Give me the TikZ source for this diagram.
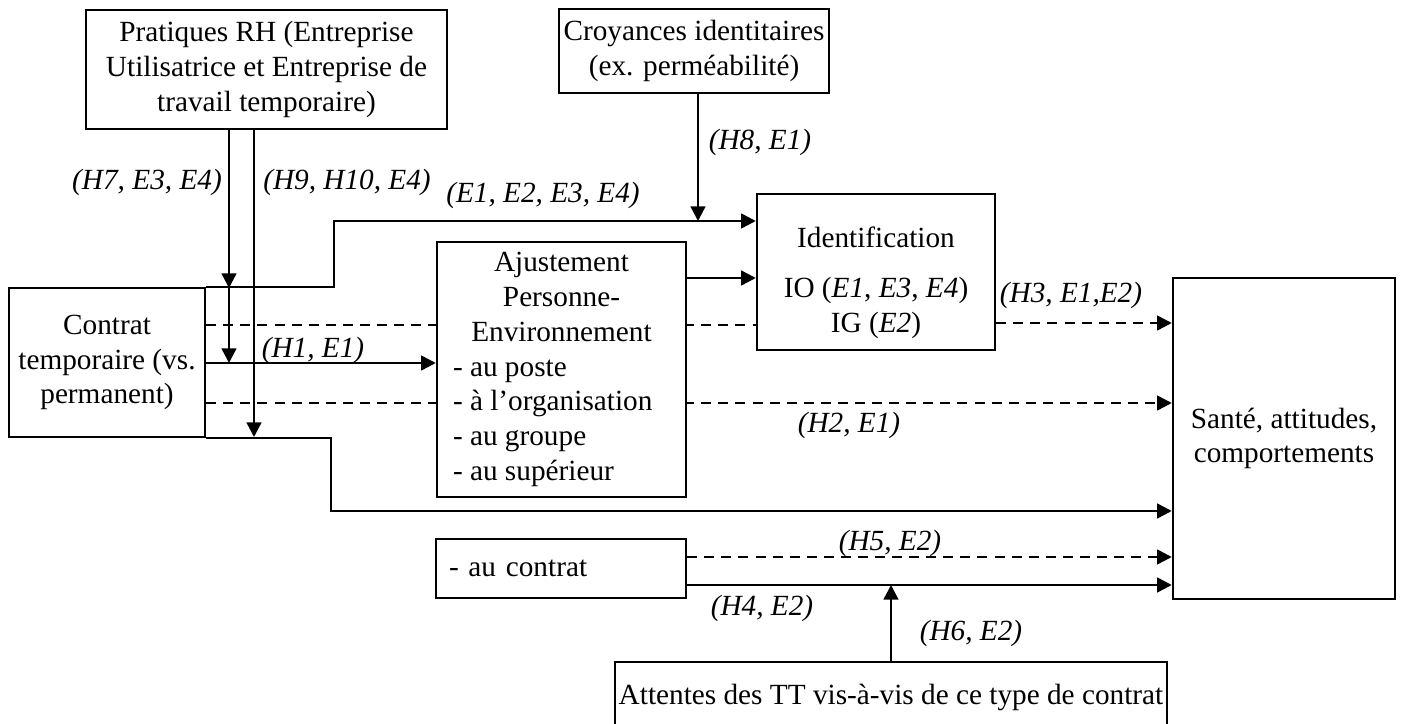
\documentclass[tikz,border=0pt]{standalone}
\usepackage{fontspec}
\setmainfont{Liberation Serif}
\usetikzlibrary{arrows.meta,backgrounds}
\begin{document}
\begin{tikzpicture}[x=0.41pt,y=-0.41pt,
  font=\fontsize{12}{14.3}\selectfont,
  box/.style={draw,line width=1pt,inner sep=0pt,fill=white,align=center,anchor=center},
  txt/.style={inner sep=0pt,align=center},
  lab/.style={inner sep=0pt,font=\fontsize{12}{14.3}\selectfont\itshape},
  conn/.style={line width=1pt},
  arr/.style={conn,-{Triangle[length=6pt,width=6pt]}},
  dsh/.style={conn,dash pattern=on 4.1pt off 2.9pt},
  darr/.style={dsh,-{Triangle[length=6pt,width=6pt]}},
]
\useasboundingbox (0,0) rectangle (1403,724);

% boxes
\node[box,minimum width=361*0.41pt,minimum height=119*0.41pt] (prat) at (266.5,69.5)
  {Pratiques RH (Entreprise\\Utilisatrice et Entreprise de\\travail temporaire)};
\node[box,minimum width=270*0.41pt,minimum height=84*0.41pt] (croy) at (694,51)
  {Croyances identitaires\\(ex. perméabilité)};
\node[box,minimum width=196*0.41pt,minimum height=149*0.41pt] (contrat) at (107,362.5)
  {Contrat\\temporaire (vs.\\permanent)};
\node[box,minimum width=249*0.41pt,minimum height=255*0.41pt,text width=217*0.41pt,align=none] (ajust) at (561.5,369.5)
  {\centering Ajustement\par Personne-\par Environnement\par\raggedright - au poste\par - à l’organisation\par - au groupe\par - au supérieur\par};
\node[box,minimum width=238*0.41pt,minimum height=156*0.41pt] (ident) at (876,272) {};
\node[txt] (identtxt) at (876,283) {Identification\\[6pt]IO (\textit{E1}, \textit{E3}, \textit{E4})\\IG (\textit{E2})};
\node[box,minimum width=222*0.41pt,minimum height=321*0.41pt] (sante) at (1284,438.5)
  {Santé, attitudes,\\comportements};
\node[box,minimum width=250*0.41pt,minimum height=59*0.41pt,text width=224*0.41pt,align=left] (auc) at (561,568.5)
  {- au contrat};
\node[box,minimum width=552*0.41pt,minimum height=70*0.41pt] (att) at (891,697)
  {Attentes des TT vis-à-vis de ce type de contrat};

% helper coordinates
\coordinate (k1) at (229,288);
\coordinate (k2) at (229,363);
\coordinate (k3) at (254,437);
\coordinate (t1) at (334,221);
\coordinate (k4) at (698,221);
\coordinate (b1) at (331,511);
\coordinate (L278) at (0,278);
\coordinate (L323) at (0,323);
\coordinate (L325) at (0,325);
\coordinate (L403) at (0,403);
\coordinate (L557) at (0,557);
\coordinate (L585) at (0,585);

% dashed lines passing behind the Ajustement box
\begin{scope}[on background layer]
\draw[dsh] (contrat.east |- L325) -- (ident.west |- L325);
\draw[darr] (contrat.east |- L403) -- (sante.west |- L403);
\end{scope}

% connectors
\draw[arr] (prat.south -| k1) -- (k1);
\draw[arr] (k1) -- (k2);
\draw[arr] (prat.south -| k3) -- (k3);
\draw[arr] (contrat.north east) -| (t1) -- (ident.west |- t1);
\draw[arr] (croy.south -| k4) -- (k4);
\draw[arr] (ajust.east |- L278) -- (ident.west |- L278);
\draw[darr] (ident.east |- L323) -- (sante.west |- L323);
\draw[arr] (contrat.east |- k2) -- (ajust.west |- k2);
\draw[arr] (contrat.south east) -| (b1) -- (sante.west |- b1);
\draw[darr] (auc.east |- L557) -- (sante.west |- L557);
\draw[arr] (auc.east |- L585) -- (sante.west |- L585);
\draw[arr] (att.north) -- (att.north |- L585);

% labels
\node[lab] (l7) at (147,182) {(H7, E3, E4)};
\node[lab] (l9) at (347,182) {(H9, H10, E4)};
\node[lab] (le) at (543,195) {(E1, E2, E3, E4)};
\node[lab] (l8) at (760,142) {(H8, E1)};
\node[lab] (l1) at (313,350) {(H1, E1)};
\node[lab] (l3) at (1071,295) {(H3, E1,E2)};
\node[lab] (l2) at (849,425) {(H2, E1)};
\node[lab] (l5) at (890,543) {(H5, E2)};
\node[lab] (l4) at (762,608) {(H4, E2)};
\node[lab] (l6) at (971,633) {(H6, E2)};
\end{tikzpicture}
\end{document}
